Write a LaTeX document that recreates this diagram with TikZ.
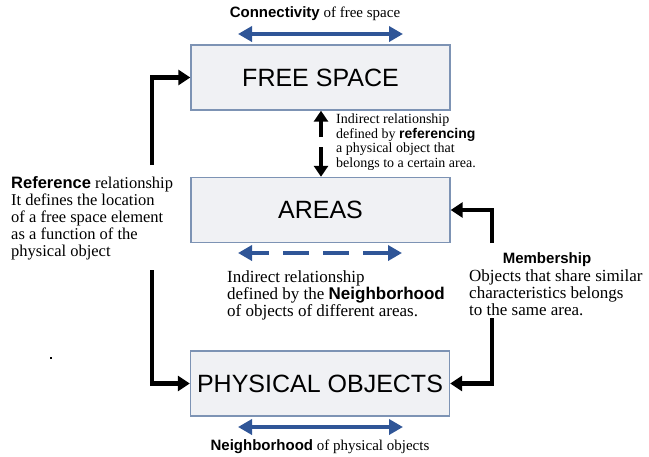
\documentclass[tikz,border=0pt]{standalone}
\usepackage{fontspec}
\setmainfont{Liberation Serif}
\setsansfont{Liberation Sans}
\usetikzlibrary{arrows.meta}

\definecolor{boxfill}{RGB}{240,241,244}
\definecolor{boxline}{RGB}{125,147,180}
\definecolor{relblue}{RGB}{47,85,151}
\newcommand{\kw}[1]{{\sffamily\bfseries #1}}

\begin{document}
\begin{tikzpicture}[x=1pt, y=-1pt,
  layer/.style={draw=boxline, line width=1.4pt, fill=boxfill, minimum width=259pt, minimum height=65pt, font=\sffamily\fontsize{25}{30}\selectfont},
  link/.style={line width=4.5pt, -{Triangle[length=12pt,width=15pt]}},
  blink/.style={relblue, line width=4pt, {Triangle[length=14pt,width=15pt]}-{Triangle[length=14pt,width=15pt]}},
  note/.style={align=left, inner sep=0pt, font=\fontsize{17}{17}\selectfont}]
\useasboundingbox (0,0) rectangle (649,456);

% the three layers
\node[layer] (fs) at (320.5,77.5) {FREE SPACE};
\node[layer] (ar) at (320.5,210) {AREAS};
\node[layer] (po) at (320,383.5) {PHYSICAL OBJECTS};

% connectivity of free space
\node[font=\fontsize{15}{15}\selectfont] (conn) at (315,14) {\kw{Connectivity} of free space};
\coordinate (c1) at (238,34);
\coordinate (c2) at (403,34);
\draw[blink] (c1) -- (c2);

% free space <-> areas
\coordinate (vm) at (321,142);
\draw[link, line width=4pt, -{Triangle[length=11pt,width=14pt]}] ([yshift=5pt]vm) -- (vm |- fs.south);
\draw[link, line width=4pt, -{Triangle[length=11pt,width=14pt]}] ([yshift=-5pt]vm) -- (vm |- ar.north);
\node[note, anchor=north west, font=\fontsize{14}{14.5}\selectfont] (ref) at (336,114)
  {Indirect relationship\\ defined by \kw{referencing}\\ a physical object that\\ belongs to a certain area.};

% neighborhood of areas
\coordinate (a1) at (238,253);
\coordinate (a2) at (402,253);
\draw[blink, dash pattern=on 26pt off 14pt, dash phase=8pt] (a1) -- (a2);
\node[note, anchor=north west] (nbh) at (227,270)
  {Indirect relationship\\ defined by the \kw{Neighborhood}\\ of objects of different areas.};

% reference relationship
\coordinate (r1) at (152,165);
\coordinate (r2) at (152,270);
\draw[link] (r1) |- (fs.west);
\draw[link] (r2) |- (po.west);
\node[note, anchor=north west, font=\fontsize{16.5}{17}\selectfont] (refl) at (11,176)
  {\kw{Reference} relationship\\ It defines the location\\ of a free space element\\ as a function of the\\ physical object};

% membership
\coordinate (m1) at (492,243);
\coordinate (m2) at (492,318);
\draw[link] (m1) |- (ar.east);
\draw[link] (m2) |- (po.east);
\node[font=\fontsize{15}{15}\selectfont] (memh) at (547,260) {\kw{Membership}};
\node[note, anchor=north west] (mem) at (469,269)
  {Objects that share similar\\ characteristics belongs\\ to the same area.};

% neighborhood of physical objects
\coordinate (p1) at (238,427);
\coordinate (p2) at (403,427);
\draw[blink] (p1) -- (p2);
\node[font=\fontsize{15}{15}\selectfont] (pnb) at (320,447) {\kw{Neighborhood} of physical objects};

\fill (50,357) rectangle (52,359);
\end{tikzpicture}
\end{document}
